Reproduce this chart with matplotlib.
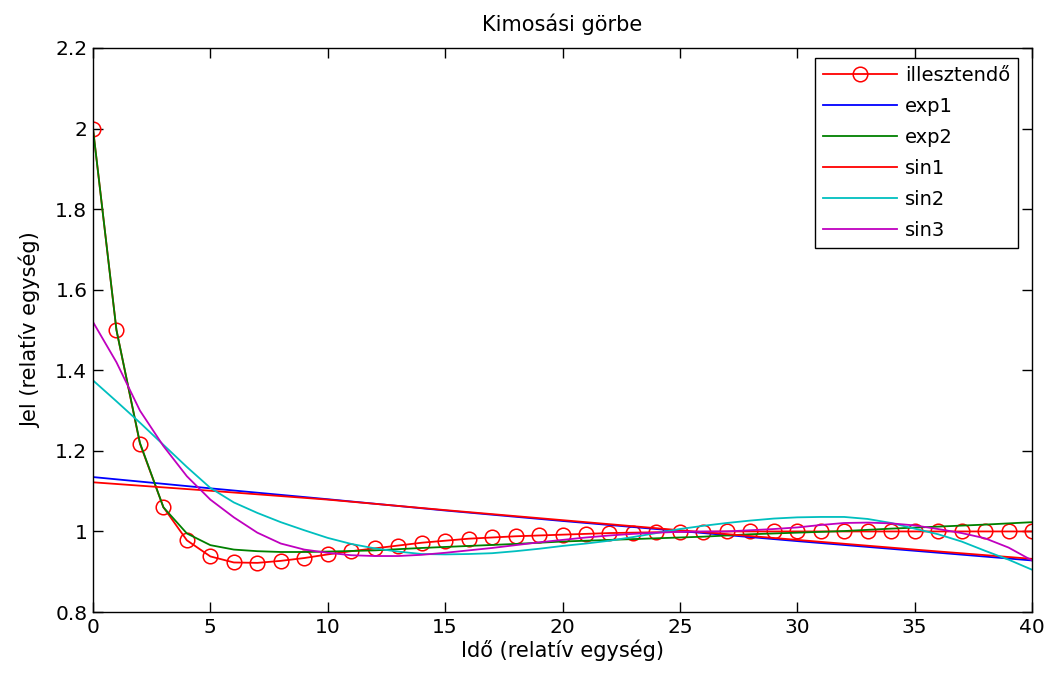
import matplotlib
matplotlib.use("Agg")
import matplotlib.pyplot as plt
from matplotlib.ticker import FormatStrFormatter

# measured signal (illesztendő), one point per time unit
t_data = list(range(41))
y_data = [2.0, 1.5, 1.218, 1.06, 0.978, 0.938, 0.923, 0.922, 0.927, 0.934,
          0.943, 0.951, 0.958, 0.965, 0.972, 0.977, 0.982, 0.985, 0.988, 0.990,
          0.992, 0.994, 0.996, 0.997, 0.998, 0.999, 0.999, 1.0, 1.0, 1.0,
          1.0, 1.0, 1.0, 1.0, 1.0, 1.0, 1.0, 1.0, 1.0, 1.0, 1.0]

# fitted curves
t_lin = [0, 5, 10, 15, 20, 25, 30, 35, 40]
y_exp1 = [1.135, 1.107, 1.080, 1.052, 1.026, 1.001, 0.976, 0.952, 0.928]
y_sin1 = [1.122, 1.101, 1.079, 1.053, 1.028, 1.003, 0.979, 0.955, 0.932]

t_exp2 = [0, 1, 2, 3, 4, 5, 6, 7, 8, 9, 10, 12, 14, 16, 18, 20, 22, 24, 26,
          28, 30, 32, 34, 36, 38, 40]
y_exp2 = [2.0, 1.5, 1.22, 1.06, 0.995, 0.966, 0.955, 0.951, 0.949, 0.949,
          0.950, 0.953, 0.959, 0.964, 0.969, 0.975, 0.979, 0.983, 0.987,
          0.993, 0.997, 1.001, 1.007, 1.012, 1.017, 1.023]

t_fine = list(range(41))
y_sin2 = [1.375, 1.323, 1.27, 1.215, 1.16, 1.108, 1.072, 1.046, 1.023, 1.003,
          0.984, 0.969, 0.958, 0.950, 0.944, 0.943, 0.944, 0.946, 0.951, 0.957,
          0.964, 0.970, 0.977, 0.986, 0.996, 1.006, 1.014, 1.021, 1.027, 1.032,
          1.035, 1.036, 1.036, 1.031, 1.021, 1.007, 0.993, 0.975, 0.952, 0.93,
          0.905]
y_sin3 = [1.52, 1.42, 1.30, 1.212, 1.137, 1.079, 1.035, 0.997, 0.97, 0.955,
          0.947, 0.941, 0.939, 0.939, 0.942, 0.947, 0.953, 0.959, 0.966, 0.973,
          0.979, 0.985, 0.99, 0.994, 0.997, 0.999, 1.0, 1.0, 1.003, 1.006,
          1.01, 1.016, 1.021, 1.022, 1.02, 1.015, 1.006, 0.996, 0.983, 0.96,
          0.928]

plt.rcParams["font.family"] = ["DejaVu Sans"]

fig = plt.figure(figsize=(10.47, 6.75), dpi=100)
fig.subplots_adjust(left=0.0888, right=0.9857, bottom=0.0933, top=0.9289)
ax = fig.add_subplot(111)

LW = 1.3
ax.plot(t_data, y_data, "-o", color="#ff0000", lw=LW, ms=10.5,
        mfc="none", mew=1.1, label="illesztendő")
ax.plot(t_lin, y_exp1, color="#0000ff", lw=LW, label="exp1")
ax.plot(t_exp2, y_exp2, color="#008000", lw=LW, label="exp2")
ax.plot(t_lin, y_sin1, color="#ff0000", lw=LW, label="sin1")
ax.plot(t_fine, y_sin2, color="#00bfbf", lw=LW, label="sin2")
ax.plot(t_fine, y_sin3, color="#bf00bf", lw=LW, label="sin3")

ax.set_xlim(0, 40)
ax.set_ylim(0.8, 2.2)
ax.set_xticks(range(0, 41, 5))
ax.set_yticks([0.8, 1.0, 1.2, 1.4, 1.6, 1.8, 2.0, 2.2])
ax.yaxis.set_major_formatter(FormatStrFormatter("%g"))
ax.tick_params(direction="in", length=7.5, width=1, top=True, right=True,
               labelsize=14.5, pad=4)
for s in ax.spines.values():
    s.set_linewidth(1.0)

ax.set_title("Kimosási görbe", fontsize=15, pad=12)
ax.set_xlabel("Idő (relatív egység)", fontsize=15, labelpad=2)
ax.set_ylabel("Jel (relatív egység)", fontsize=15, labelpad=10)

leg = ax.legend(loc="upper right", bbox_to_anchor=(0.985, 0.982),
                borderaxespad=0, fontsize=14, fancybox=False, framealpha=1,
                edgecolor="black", handlelength=3.8, handletextpad=0.4,
                labelspacing=0.62, borderpad=0.4)
leg.get_frame().set_linewidth(1.0)

fig.savefig("out.png", dpi=100)
